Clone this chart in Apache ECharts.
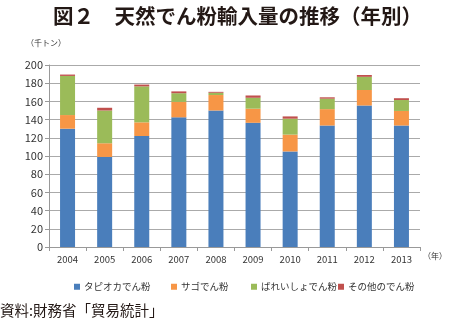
<!DOCTYPE html>
<html><head><meta charset="utf-8">
<script src="https://cdn.jsdelivr.net/npm/echarts@6/dist/echarts.min.js"></script>
<style>html,body{margin:0;padding:0;background:#fff}#c{width:450px;height:323px}</style>
</head><body><div id="c"></div>
<script>
const years = ['2004','2005','2006','2007','2008','2009','2010','2011','2012','2013'];
const tapioca = [130, 99, 122, 142.5, 150, 136.5, 105, 133.5, 155.5, 133.5];
const sago = [15, 15, 15, 17, 17, 15.5, 18.5, 18, 17, 16];
const potato = [43, 36, 39.5, 9.5, 2.5, 12, 17.5, 11.5, 14.5, 12];
const other = [1.5, 3, 2, 2, 1, 2.5, 2.5, 1.5, 2, 2];
const seriesNames = ['タピオカでん粉','サゴでん粉','ばれいしょでん粉','その他のでん粉'];
const colors = ['#4A7EBB','#F79646','#9BBB59','#C0504D'];
const yTicks = {min:0, max:200, interval:20};

const font = '"Noto Sans CJK JP", "Noto Sans", sans-serif';
const chart = echarts.init(document.getElementById('c'));
const data = [tapioca, sago, potato, other];
const legendLeft = [69, 166, 246, 333];
chart.setOption({
  animation:false,
  textStyle:{fontFamily:font},
  title:{text:'図２　天然でん粉輸入量の推移（年別）', left:48, top:1,
    textStyle:{fontSize:20.5, fontWeight:'bold', color:'#231815', fontFamily:font}},
  grid:{left:49, right:30, top:65, bottom:76},
  legend: seriesNames.map((n,i)=>({data:[n], left:legendLeft[i], top:277, itemWidth:6, itemHeight:6,
    icon:'rect', itemGap:4, textStyle:{fontSize:9.5, color:'#333', fontFamily:font, padding:[0,0,0,-1]}})),
  xAxis:{type:'category', data:years,
    axisLine:{lineStyle:{color:'#999'}},
    axisTick:{show:true, length:4, alignWithLabel:false, lineStyle:{color:'#999'}},
    axisLabel:{fontSize:9.5, color:'#333', margin:8}},
  yAxis:{type:'value', min:yTicks.min, max:yTicks.max, interval:yTicks.interval,
    axisLine:{show:true, lineStyle:{color:'#999'}},
    axisTick:{show:true, length:4, lineStyle:{color:'#999'}},
    splitLine:{lineStyle:{color:'#aaa'}},
    axisLabel:{fontSize:11, color:'#333', margin:6}},
  graphic:[
    {type:'text', left:26, top:39, style:{text:'（千トン）', fill:'#333', font:'8px '+font}},
    {type:'text', left:423, top:252, style:{text:'（年）', fill:'#333', font:'8px '+font}},
    {type:'text', left:0, top:303, style:{text:'資料:財務省「貿易統計」', fill:'#231815', font:'14.5px '+font}}
  ],
  series: seriesNames.map((n,i)=>({name:n, type:'bar', stack:'s', data:data[i], barWidth:15,
    itemStyle:{color:colors[i]}}))
});
</script></body></html>
